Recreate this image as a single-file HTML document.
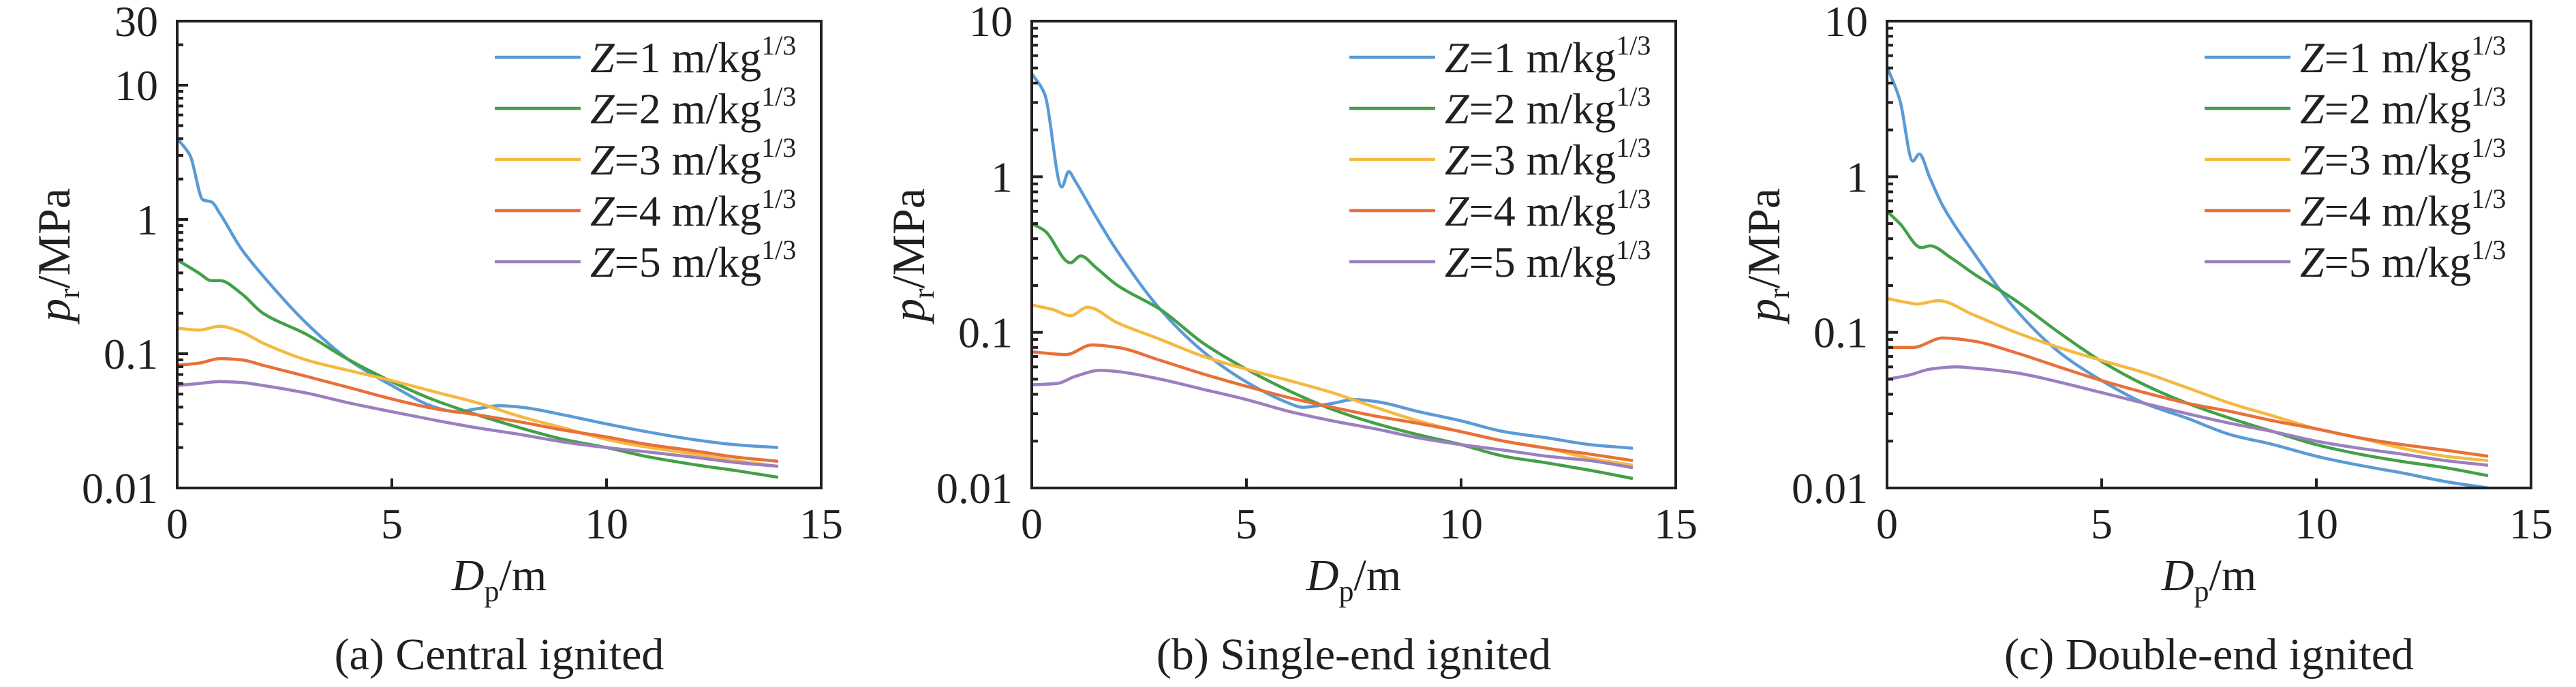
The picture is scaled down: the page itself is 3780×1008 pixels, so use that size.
<!DOCTYPE html>
<html><head><meta charset="utf-8"><style>
html,body{margin:0;padding:0;background:#fff;}
svg, svg text{font-family:"Liberation Serif","Noto Serif CJK SC","DejaVu Serif",serif;}
</style></head><body>
<svg id="fig" width="3780" height="1003" viewBox="0 0 3780 1003" xmlns="http://www.w3.org/2000/svg"></svg>
<script>
// ---- data ----
const legendLabels = ["1","2","3","4","5"];
const seriesColors = ["#5b9bd5","#43a047","#f4b942","#e8703a","#9b7fbf"];
const xTicks = [0,5,10,15];
const captions = ["(a) Central ignited","(b) Single-end ignited","(c) Double-end ignited"];
const yMaxA = 30, yMaxB = 10, yMaxC = 10;

// Panel (a) Central ignited
const aZ1x = [0,0.3,0.6,0.8,1.0,1.5,2,3,4,5,6,6.5,7,7.5,8,9,10,11,12,13,14];
const aZ1y = [4.0,3.0,1.4,1.35,1.1,0.6,0.38,0.17,0.09,0.058,0.04,0.037,0.039,0.041,0.04,0.035,0.03,0.026,0.023,0.021,0.02];
const aZ2x = [0,0.5,0.8,1.0,1.5,2,3,4,5,6,7,8,9,10,11,12,13,14];
const aZ2y = [0.5,0.4,0.35,0.35,0.28,0.2,0.14,0.09,0.062,0.045,0.035,0.028,0.023,0.02,0.017,0.015,0.0135,0.012];
const aZ3x = [0,0.5,1,1.5,2,3,4,5,6,7,8,9,10,11,12,13,14];
const aZ3y = [0.155,0.15,0.16,0.145,0.12,0.09,0.075,0.063,0.052,0.043,0.034,0.028,0.023,0.02,0.018,0.016,0.0145];
const aZ4x = [0,0.5,1,1.5,2,3,4,5,6,7,8,9,10,11,12,13,14];
const aZ4y = [0.082,0.085,0.092,0.09,0.082,0.068,0.056,0.046,0.039,0.035,0.031,0.027,0.024,0.021,0.019,0.017,0.0158];
const aZ5x = [0,0.5,1,1.5,2,3,4,5,6,7,8,9,10,11,12,13,14];
const aZ5y = [0.058,0.06,0.062,0.061,0.058,0.051,0.043,0.037,0.032,0.028,0.025,0.022,0.02,0.0185,0.017,0.0155,0.0145];

// Panel (b) Single-end ignited
const bZ1x = [0,0.3,0.7,0.86,1.0,1.5,2,3,4,5,6,6.3,7,7.5,8,9,10,11,12,13,14];
const bZ1y = [4.6,3.4,0.86,1.08,0.95,0.55,0.33,0.14,0.075,0.048,0.035,0.033,0.035,0.037,0.036,0.031,0.027,0.023,0.021,0.019,0.018];
const bZ2x = [0,0.3,0.9,1.14,1.5,2,3,4,5,6,7,8,9,10,11,12,13,14];
const bZ2y = [0.5,0.45,0.28,0.31,0.26,0.2,0.14,0.085,0.058,0.042,0.032,0.026,0.022,0.019,0.016,0.0145,0.013,0.0115];
const bZ3x = [0,0.5,0.9,1.3,2,3,4,5,6,7,8,9,10,11,12,13,14];
const bZ3y = [0.15,0.14,0.128,0.145,0.115,0.09,0.07,0.058,0.049,0.041,0.033,0.027,0.023,0.02,0.018,0.0155,0.014];
const bZ4x = [0,0.8,1.4,2,3,4,5,6,7,8,9,10,11,12,13,14];
const bZ4y = [0.075,0.072,0.083,0.08,0.066,0.054,0.045,0.038,0.033,0.029,0.026,0.023,0.02,0.018,0.0165,0.015];
const bZ5x = [0,0.6,1,1.6,2,3,4,5,6,7,8,9,10,11,12,13,14];
const bZ5y = [0.046,0.047,0.052,0.057,0.056,0.05,0.043,0.037,0.031,0.027,0.024,0.021,0.019,0.0175,0.016,0.015,0.0135];

// Panel (c) Double-end ignited
const cZ1x = [0,0.3,0.6,0.75,1.0,1.3,2,3,4,5,6,7,8,9,10,11,12,13,14];
const cZ1y = [5.1,3.1,1.26,1.4,0.98,0.65,0.33,0.14,0.075,0.049,0.035,0.028,0.022,0.019,0.016,0.014,0.0125,0.011,0.01];
const cZ2x = [0,0.3,0.8,1.0,1.5,2,3,4,5,6,7,8,9,10,11,12,13,14];
const cZ2y = [0.6,0.5,0.35,0.36,0.3,0.24,0.16,0.1,0.065,0.046,0.035,0.028,0.023,0.019,0.0165,0.0148,0.0135,0.012];
const cZ3x = [0,0.5,0.7,1.2,2,3,4,5,6,7,8,9,10,11,12,13,14];
const cZ3y = [0.165,0.155,0.152,0.16,0.13,0.1,0.08,0.066,0.055,0.044,0.035,0.029,0.024,0.021,0.018,0.016,0.015];
const cZ4x = [0,0.6,1.3,2,3,4,5,6,7,8,9,10,11,12,13,14];
const cZ4y = [0.08,0.08,0.092,0.088,0.074,0.06,0.049,0.041,0.035,0.031,0.027,0.024,0.021,0.019,0.0175,0.016];
const cZ5x = [0,0.5,1,1.6,2,3,4,5,6,7,8,9,10,11,12,13,14];
const cZ5y = [0.05,0.053,0.058,0.06,0.059,0.055,0.048,0.041,0.035,0.03,0.026,0.023,0.02,0.018,0.0165,0.015,0.014];

const panels = [
  {left:260, ymax:yMaxA, xs:[aZ1x,aZ2x,aZ3x,aZ4x,aZ5x], ys:[aZ1y,aZ2y,aZ3y,aZ4y,aZ5y], cap:captions[0], id:"a"},
  {left:1514, ymax:yMaxB, xs:[bZ1x,bZ2x,bZ3x,bZ4x,bZ5x], ys:[bZ1y,bZ2y,bZ3y,bZ4y,bZ5y], cap:captions[1], id:"b"},
  {left:2769, ymax:yMaxC, xs:[cZ1x,cZ2x,cZ3x,cZ4x,cZ5x], ys:[cZ1y,cZ2y,cZ3y,cZ4y,cZ5y], cap:captions[2], id:"c"}
];
const TOP = 31, BOT = 716, W = 945, XMAX = 15, YMIN = 0.01;
const FONT = "Liberation Serif, Noto Serif CJK SC, DejaVu Serif, serif";
const NS = "http://www.w3.org/2000/svg";
const svg = document.getElementById("fig");
function mk(tag, attrs, parent) {
  const e = document.createElementNS(NS, tag);
  for (const k in attrs) e.setAttribute(k, attrs[k]);
  if (tag === "text") e.style.fontFamily = '"Liberation Serif", "Noto Serif CJK SC", "DejaVu Serif", serif';
  (parent || svg).appendChild(e);
  return e;
}
function path(pts) {
  const n = pts.length;
  const dx = [], dy = [], m = [];
  for (let i = 0; i < n - 1; i++) { dx.push(pts[i+1][0]-pts[i][0]); dy.push(pts[i+1][1]-pts[i][1]); m.push(dy[i]/dx[i]); }
  const t = new Array(n);
  t[0] = m[0]; t[n-1] = m[n-2];
  for (let i = 1; i < n - 1; i++) {
    if (m[i-1] * m[i] <= 0) t[i] = 0;
    else t[i] = 2 / (1/m[i-1] + 1/m[i]);
  }
  let d = "M" + pts[0][0].toFixed(1) + "," + pts[0][1].toFixed(1);
  for (let i = 0; i < n - 1; i++) {
    const h = dx[i] / 3;
    d += " C" + (pts[i][0]+h).toFixed(1) + "," + (pts[i][1]+t[i]*h).toFixed(1) + " " +
         (pts[i+1][0]-h).toFixed(1) + "," + (pts[i+1][1]-t[i+1]*h).toFixed(1) + " " +
         pts[i+1][0].toFixed(1) + "," + pts[i+1][1].toFixed(1);
  }
  return d;
}
panels.forEach(P => {
  const g = mk("g", {});
  
  
  const L = P.left;
  const xS = v => L + v / XMAX * W;
  const dec = Math.log10(P.ymax / YMIN);
  const yS = v => BOT - Math.log10(v / YMIN) / dec * (BOT - TOP);
  P.xs.forEach((xa, si) => {
    const pts = xa.map((x, i) => [xS(x), yS(P.ys[si][i])]);
    const p = mk("path", {d: path(pts), fill: "none", stroke: seriesColors[si], "stroke-width": 4.5, "stroke-linejoin": "round"}, g);
    
    
  });
  const fr = mk("rect", {x: L, y: TOP, width: W, height: BOT - TOP, fill: "none", stroke: "#231f20", "stroke-width": 4}, g);
  
  
  for (let e = -2; e <= 1; e++) {
    for (let mm = 1; mm <= 9; mm++) {
      const v = mm * Math.pow(10, e);
      if (v > P.ymax + 1e-9) continue;
      const y = yS(v);
      mk("line", {x1: L, x2: L + (mm === 1 ? 16 : 9), y1: y, y2: y, stroke: "#231f20", "stroke-width": 4}, g);
    }
  }
  const yLabs = [0.01, 0.1, 1, 10];
  if (P.ymax > 10) yLabs.push(P.ymax);
  yLabs.forEach(v => {
    const t = mk("text", {x: L - 28, y: yS(v) + 22, "text-anchor": "end", "font-size": 64, fill: "#231f20"}, g);
    t.textContent = String(v);
    
    
  });
  xTicks.forEach(v => {
    const x = xS(v);
    mk("line", {x1: x, x2: x, y1: BOT, y2: BOT - 14, stroke: "#231f20", "stroke-width": 4}, g);
    const t = mk("text", {x: x, y: 790, "text-anchor": "middle", "font-size": 64, fill: "#231f20"}, g);
    t.textContent = String(v);
    
    
  });
  const yl = mk("text", {transform: "translate(" + (L - 158) + "," + 374 + ") rotate(-90)", "text-anchor": "middle", "font-size": 68, fill: "#231f20"}, g);
  yl.innerHTML = '<tspan font-style="italic">p</tspan><tspan font-size="44" dy="14">r</tspan><tspan dy="-14">/MPa</tspan>';
  
  
  const xl = mk("text", {x: L + W/2, y: 866, "text-anchor": "middle", "font-size": 66, fill: "#231f20"}, g);
  xl.innerHTML = '<tspan font-style="italic">D</tspan><tspan font-size="44" dy="16">p</tspan><tspan dy="-16">/m</tspan>';
  
  
  const cp = mk("text", {x: L + W/2, y: 982, "text-anchor": "middle", "font-size": 66, fill: "#231f20"}, g);
  cp.textContent = P.cap;
  
  
  legendLabels.forEach((lab, i) => {
    const y = 84 + i * 75;
    const lg = mk("g", {}, g);
    
    
    mk("line", {x1: L + 466, x2: L + 592, y1: y, y2: y, stroke: seriesColors[i], "stroke-width": 4.5}, lg);
    const t = mk("text", {x: L + 606, y: y + 22, "font-size": 64, fill: "#231f20"}, lg);
    t.innerHTML = '<tspan font-style="italic">Z</tspan>=' + lab + ' m/kg<tspan font-size="40" dy="-26">1/3</tspan>';
  });
});
</script>
</body></html>
